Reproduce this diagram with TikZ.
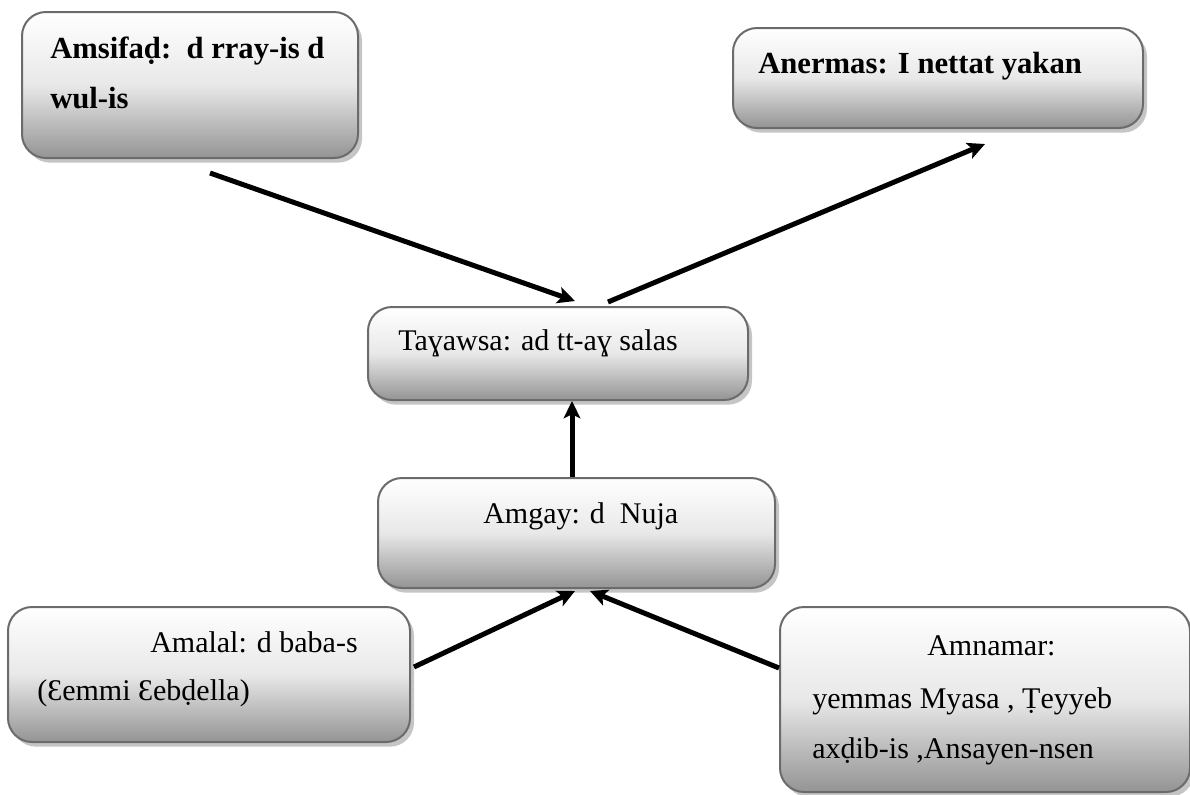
\documentclass[tikz,border=0pt]{standalone}
\usepackage{fontspec}
\setmainfont{Liberation Serif}
\usetikzlibrary{shapes,arrows,calc,positioning,arrows.meta,shadows}

\begin{document}
\begin{tikzpicture}[
    x=0.75pt,y=-0.75pt,
    >={Stealth[length=13pt,width=12.5pt,inset=3pt]},
    box/.style={rectangle,rounded corners=18pt,draw=black!58,line width=1.5pt,
      top color=white,bottom color=black!42,middle color=black!9,inner sep=0pt,
      drop shadow={shadow xshift=3pt,shadow yshift=-3.5pt,fill=black!45,opacity=0.5}},
    txt/.style={anchor=base west,inner sep=0pt,font=\fontsize{22.5}{27}\selectfont}]
    \useasboundingbox (0,0) rectangle (1190,794);

    \node[box,minimum width=252pt,minimum height=109.5pt] (msifad) at (190,85) {};
    \node[box,minimum width=307.5pt,minimum height=75pt] (anermas) at (938,78) {};
    \node[box,minimum width=285pt,minimum height=69.75pt] (tayawsa) at (558,353.5) {};
    \node[box,minimum width=297.75pt,minimum height=82.5pt] (amgay) at (576.5,533) {};
    \node[box,minimum width=301.5pt,minimum height=101.25pt] (amalal) at (209,674.5) {};
    \node[box,minimum width=307.5pt,minimum height=138.75pt] (amnamar) at (985,699.5) {};

    \node[txt,font=\fontsize{23}{27}\selectfont\bfseries] (msifad1) at (50,58) {Amsifaḍ:\ \ d rray-is d};
    \node[txt,font=\fontsize{23}{27}\selectfont\bfseries] (msifad2) at (50,108) {wul-is};
    \node[txt,font=\fontsize{23}{27}\selectfont\bfseries] (anermas1) at (758,73) {Anermas: I nettat yakan};
    \node[txt] (tayawsa1) at (398,350) {Taɣawsa: ad tt-aɣ salas};
    \node[txt] (amgay1) at (483,523) {Amgay: d\ \ Nuja};
    \node[txt] (amalal1) at (150,652) {Amalal: d baba-s};
    \node[txt] (amalal2) at (37,700) {(Ɛemmi Ɛebḍella)};
    \node[txt] (amnamar1) at (927,655) {Amnamar:};
    \node[txt] (amnamar2) at (812,708) {yemmas Myasa , Ṭeyyeb};
    \node[txt] (amnamar3) at (812,758) {axḍib-is ,Ansayen-nsen};

    \draw[->,line width=3.75pt] ($(msifad.south)+(20,14)$) -- ($(tayawsa.north)+(17,-5)$);
    \draw[->,line width=3.75pt] ($(tayawsa.north)+(50,-4)$) -- ($(anermas.south)+(47,15)$);
    \draw[->,line width=3.75pt] ($(amgay.north)+(-4.5,0)$) -- ($(tayawsa.south)+(14,0)$);
    \draw[->,line width=3.75pt] ($(amalal.east)+(3,-7.5)$) -- ($(amgay.south)+(-1.5,2)$);
    \draw[->,line width=3.75pt] ($(amnamar.west)+(0,-31.5)$) -- ($(amgay.south)+(13.5,2)$);
  \end{tikzpicture}
\end{document}
